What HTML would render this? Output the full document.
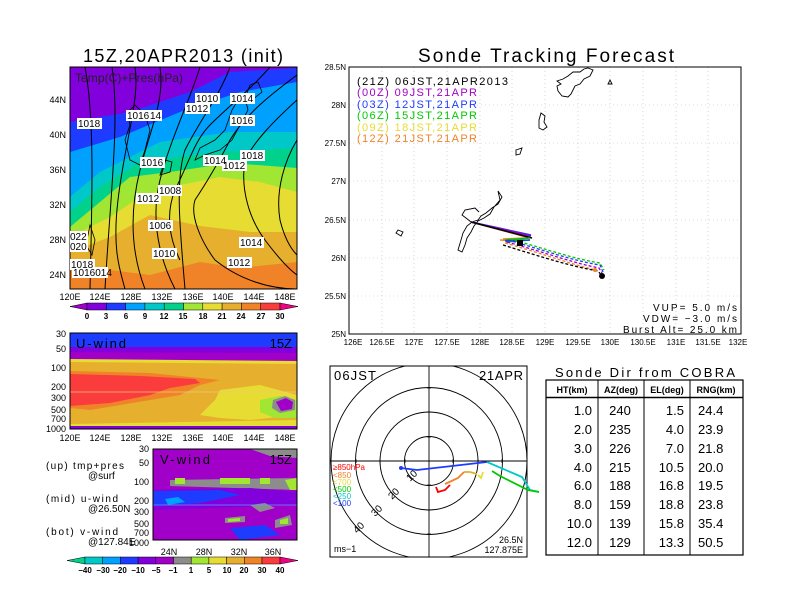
<!DOCTYPE html>
<html><head><meta charset="utf-8"><style>
html,body{margin:0;padding:0;background:#fff}
svg{display:block;font-family:"Liberation Sans",sans-serif}
</style></head><body>
<svg width="792" height="612" viewBox="0 0 792 612" xmlns="http://www.w3.org/2000/svg">
<rect width="792" height="612" fill="#fff"/>
<!-- ===== Top-left map ===== -->
<text x="183" y="62" font-size="18" text-anchor="middle" textLength="200">15Z,20APR2013 (init)</text>
<defs><clipPath id="cm"><rect x="70" y="67" width="227" height="222"/></clipPath>
<clipPath id="cu"><rect x="70" y="333" width="227" height="96"/></clipPath>
<clipPath id="cv"><rect x="153" y="449" width="144" height="91"/></clipPath>
<clipPath id="cp"><rect x="330" y="366" width="197" height="191"/></clipPath></defs>
<g clip-path="url(#cm)">
<rect x="70" y="67" width="227" height="222" fill="#f08228"/>
<path d="M70,67 L297,67 L297,262 L240,268 L200,262 L150,275 L70,265Z" fill="#e6af2d"/>
<path d="M70,67 L297,67 L297,232 L250,232 L200,226 L150,215 L110,237 L70,252Z" fill="#e6dc32"/>
<path d="M70,67 L297,67 L297,192 L260,182 L220,177 L170,187 L140,197 L110,217 L70,237Z" fill="#a0e632"/>
<path d="M70,67 L297,67 L297,168 L230,163 L170,172 L130,177 L100,202 L70,227Z" fill="#00d28c"/>
<path d="M70,67 L297,67 L297,148 L220,152 L140,162 L100,187 L70,212Z" fill="#00c8c8"/>
<path d="M70,67 L297,67 L297,132 L230,132 L160,142 L100,172 L70,197Z" fill="#00a0ff"/>
<path d="M70,67 L297,67 L297,82 L240,92 L180,112 L120,137 L70,152Z" fill="#1e3cff"/>
<path d="M70,67 L297,67 L297,68 L230,72 L190,92 L130,112 L70,122Z" fill="#8200dc"/>
<g fill="none" stroke="#000" stroke-width="1">
<path d="M85,67 C95,120 92,200 90,289"/>
<path d="M112,67 C120,120 110,200 105,289"/>
<path d="M135,67 C140,100 125,140 118,200 C112,250 120,270 125,289"/>
<path d="M160,67 C165,100 150,130 140,170 C130,210 130,250 145,289"/>
<path d="M200,67 C190,100 170,140 160,180 C150,220 160,260 175,289"/>
<path d="M230,67 C220,95 200,120 185,150 C175,180 180,230 185,289"/>
<path d="M270,67 C250,90 230,105 210,125 C195,140 190,160 175,190 C165,215 170,240 180,260"/>
<path d="M297,75 C270,95 245,115 230,140 C220,160 205,185 195,200 C190,215 200,240 215,260 C240,280 270,289 297,289"/>
<path d="M297,100 C275,120 255,140 245,160 C240,190 250,220 265,240 C280,260 290,270 297,275"/>
<path d="M297,140 C285,160 275,190 280,220 C285,240 292,250 297,255"/>
</g>
<g fill="none" stroke="#000" stroke-width="0.8">
<path d="M135,105 L145,115 L150,130 L145,150 L140,165 L130,160 L125,140 L130,125 L128,112Z"/>
<path d="M200,148 L215,140 L225,130 L232,110 L238,100 L245,98 L248,110 L240,125 L232,140 L220,150 L205,155 L195,160Z"/>
<path d="M245,98 L250,85 L258,82 L262,92 L252,100Z"/>
<path d="M165,160 L172,162 L170,172 L160,175Z"/>
<path d="M90,225 L95,240 L92,255 L86,245Z"/>
</g>
</g>
<rect x="70" y="67" width="227" height="222" fill="none" stroke="#000" stroke-width="1"/>
<text x="75" y="82" font-size="12" fill="#222" textLength="108">Temp(C)+Pres(hPa)</text>
<g font-size="10" fill="#000">
<g fill="#fff"><rect x="195" y="93" width="25" height="11"/><rect x="185" y="103" width="25" height="11"/><rect x="230" y="93" width="25" height="11"/><rect x="126" y="110" width="36" height="11"/><rect x="77" y="118" width="25" height="11"/><rect x="230" y="115" width="25" height="11"/><rect x="140" y="157" width="25" height="11"/><rect x="203" y="155" width="25" height="11"/><rect x="240" y="150" width="25" height="11"/><rect x="222" y="160" width="25" height="11"/><rect x="158" y="185" width="24" height="11"/><rect x="136" y="193" width="25" height="11"/><rect x="148" y="220" width="25" height="11"/><rect x="152" y="248" width="25" height="11"/><rect x="239" y="237" width="25" height="11"/><rect x="227" y="257" width="25" height="11"/><rect x="70" y="231" width="18" height="11"/><rect x="70" y="241" width="18" height="11"/><rect x="70" y="259" width="25" height="11"/><rect x="72" y="267" width="36" height="11"/></g>
<text x="196" y="102">1010</text><text x="186" y="112">1012</text><text x="231" y="102">1014</text><text x="127" y="119">1016</text><text x="150" y="119">14</text><text x="78" y="127">1018</text><text x="231" y="124">1016</text><text x="141" y="166">1016</text><text x="204" y="164">1014</text><text x="241" y="159">1018</text><text x="223" y="169">1012</text><text x="159" y="194">1008</text><text x="137" y="202">1012</text><text x="149" y="229">1006</text><text x="153" y="257">1010</text><text x="240" y="246">1014</text><text x="228" y="266">1012</text><text x="70" y="240">022</text><text x="70" y="250">020</text><text x="71" y="268">1018</text><text x="73" y="276">1016014</text>
</g>
<g font-size="9" text-anchor="end"><text x="66" y="103">44N</text><text x="66" y="138">40N</text><text x="66" y="173">36N</text><text x="66" y="208">32N</text><text x="66" y="243">28N</text><text x="66" y="278">24N</text></g>
<g font-size="9" text-anchor="middle"><text x="70" y="300">120E</text><text x="100" y="300">124E</text><text x="131" y="300">128E</text><text x="162" y="300">132E</text><text x="193" y="300">136E</text><text x="223" y="300">140E</text><text x="254" y="300">144E</text><text x="285" y="300">148E</text></g>
<!-- colorbar 1 -->
<g stroke="#000" stroke-width="0.5">
<path d="M70,306.5 L87,303 L87,310Z" fill="#a000c8"/>
<rect x="87" y="303" width="19.3" height="7" fill="#8200dc"/><rect x="106.3" y="303" width="19.3" height="7" fill="#1e3cff"/><rect x="125.6" y="303" width="19.3" height="7" fill="#00a0ff"/><rect x="144.9" y="303" width="19.3" height="7" fill="#00c8c8"/><rect x="164.2" y="303" width="19.3" height="7" fill="#00d28c"/><rect x="183.5" y="303" width="19.3" height="7" fill="#a0e632"/><rect x="202.8" y="303" width="19.3" height="7" fill="#e6dc32"/><rect x="222.1" y="303" width="19.3" height="7" fill="#e6af2d"/><rect x="241.4" y="303" width="19.3" height="7" fill="#f08228"/><rect x="260.7" y="303" width="19.3" height="7" fill="#fa3c3c"/>
<path d="M280,303 L298,306.5 L280,310Z" fill="#f00082"/></g>
<g font-size="8" font-weight="bold" text-anchor="middle"><text x="87" y="319">0</text><text x="106" y="319">3</text><text x="126" y="319">6</text><text x="145" y="319">9</text><text x="164" y="319">12</text><text x="183" y="319">15</text><text x="203" y="319">18</text><text x="222" y="319">21</text><text x="241" y="319">24</text><text x="261" y="319">27</text><text x="280" y="319">30</text></g>
<!-- ===== U-wind ===== -->
<g clip-path="url(#cu)">
<rect x="70" y="333" width="227" height="96" fill="#e6af2d"/>
<rect x="70" y="333" width="227" height="14" fill="#1e3cff"/>
<path d="M70,347 L297,347 L297,360 L70,358Z" fill="#8200dc"/>
<path d="M70,352 L297,353 L297,362 L70,360Z" fill="#a000c8"/>
<path d="M70,359 L297,361 L297,364 L70,362Z" fill="#e6dc32"/>
<path d="M70,371 L150,373 L200,378 L220,380 L200,385 L180,395 L150,400 L120,405 L90,410 L70,408Z" fill="#f08228"/>
<path d="M70,374 L140,376 L195,379 L200,383 L170,388 L150,395 L110,403 L70,406Z" fill="#fa3c3c"/>
<path d="M220,390 L260,385 L297,395 L297,415 L250,420 L220,418 L200,415 L215,400Z" fill="#e6dc32"/>
<path d="M260,400 L280,396 L297,400 L297,418 L275,418 L260,412Z" fill="#a0e632"/>
<path d="M273,400 L285,396 L295,400 L295,410 L280,413 L272,408Z" fill="#8c8c8c"/>
<path d="M276,402 L286,398 L293,402 L292,409 L281,411Z" fill="#a000c8"/>
<path d="M70,424 L297,420 L297,429 L70,429Z" fill="#e6dc32"/>
<rect x="70" y="426" width="227" height="3" fill="#8200dc"/>
<line x1="70" y1="392" x2="297" y2="392" stroke="#f0c880" stroke-width="0.8"/>
</g>
<rect x="70" y="333" width="227" height="96" fill="none" stroke="#000"/>
<text x="76" y="348" font-size="13" textLength="50">U-wind</text><text x="292" y="348" font-size="13" text-anchor="end">15Z</text>
<g font-size="9" text-anchor="end"><text x="66" y="337">30</text><text x="66" y="352">50</text><text x="66" y="371">100</text><text x="66" y="390">200</text><text x="66" y="401">300</text><text x="66" y="413">500</text><text x="66" y="422">700</text><text x="66" y="432">1000</text></g>
<g font-size="9" text-anchor="middle"><text x="70" y="441">120E</text><text x="100" y="441">124E</text><text x="131" y="441">128E</text><text x="162" y="441">132E</text><text x="193" y="441">136E</text><text x="223" y="441">140E</text><text x="254" y="441">144E</text><text x="285" y="441">148E</text></g>
<!-- ===== V-wind ===== -->
<g clip-path="url(#cv)">
<rect x="153" y="449" width="144" height="91" fill="#a000c8"/>
<path d="M250,449 L297,449 L297,458 L270,456Z" fill="#8c8c8c"/>
<path d="M170,480 L297,478 L297,490 L170,486Z" fill="#8c8c8c"/>
<path d="M175,478 L185,478 L185,484 L175,484Z M220,478 L250,478 L250,484 L220,484Z M260,478 L270,478 L270,484 L260,484Z M285,480 L297,478 L297,490 L290,490Z" fill="#a0e632"/>
<path d="M153,490 L250,488 L297,492 L297,505 L153,510Z" fill="#8200dc"/>
<path d="M153,491 L220,490 L240,495 L200,503 L153,506Z" fill="#1e3cff"/>
<path d="M165,499 L178,497 L185,502 L168,505Z" fill="#00a0ff"/>
<path d="M250,505 L265,503 L275,508 L260,512Z M275,520 L290,515 L292,525 L275,528Z M225,518 L245,516 L245,522 L225,523Z" fill="#8c8c8c"/>
<path d="M228,519 L240,518 L240,521 L228,522Z M280,520 L288,518 L288,524 L280,524Z" fill="#a0e632"/>
<path d="M230,528 L265,525 L280,535 L240,540Z" fill="#1e3cff"/>
<line x1="153" y1="505" x2="297" y2="505" stroke="#6496ff" stroke-width="0.7"/>
</g>
<rect x="153" y="449" width="144" height="91" fill="none" stroke="#000"/>
<text x="160" y="464" font-size="13" textLength="50">V-wind</text><text x="292" y="464" font-size="13" text-anchor="end">15Z</text>
<g font-size="9" text-anchor="end"><text x="149" y="452">30</text><text x="149" y="466">50</text><text x="149" y="485">100</text><text x="149" y="504">200</text><text x="149" y="515">300</text><text x="149" y="527">500</text><text x="149" y="536">700</text><text x="149" y="546">1000</text></g>
<g font-size="9" text-anchor="middle"><text x="169" y="555">24N</text><text x="204" y="555">28N</text><text x="239" y="555">32N</text><text x="273" y="555">36N</text></g>
<g font-size="10"><text x="46" y="469" textLength="78">(up) tmp+pres</text><text x="88" y="479">@surf</text><text x="46" y="502" textLength="72">(mid) u-wind</text><text x="88" y="512">@26.50N</text><text x="46" y="535" textLength="72">(bot) v-wind</text><text x="88" y="545">@127.84E</text></g>
<!-- colorbar 2 -->
<g stroke="#000" stroke-width="0.5">
<path d="M67,560.5 L85,557 L85,564Z" fill="#00d28c"/>
<rect x="85" y="557" width="17.7" height="7" fill="#00c8c8"/><rect x="102.7" y="557" width="17.7" height="7" fill="#00a0ff"/><rect x="120.4" y="557" width="17.7" height="7" fill="#1e3cff"/><rect x="138.1" y="557" width="17.7" height="7" fill="#8200dc"/><rect x="155.8" y="557" width="17.7" height="7" fill="#a000c8"/><rect x="173.5" y="557" width="17.7" height="7" fill="#8c8c8c"/><rect x="191.2" y="557" width="17.7" height="7" fill="#a0e632"/><rect x="208.9" y="557" width="17.7" height="7" fill="#e6dc32"/><rect x="226.6" y="557" width="17.7" height="7" fill="#e6af2d"/><rect x="244.3" y="557" width="17.7" height="7" fill="#f08228"/><rect x="262" y="557" width="18" height="7" fill="#fa3c3c"/>
<path d="M280,557 L298,560.5 L280,564Z" fill="#f00082"/></g>
<g font-size="8" font-weight="bold" text-anchor="middle"><text x="85" y="573">−40</text><text x="103" y="573">−30</text><text x="120" y="573">−20</text><text x="138" y="573">−10</text><text x="156" y="573">−5</text><text x="173" y="573">−1</text><text x="191" y="573">1</text><text x="209" y="573">5</text><text x="227" y="573">10</text><text x="244" y="573">20</text><text x="262" y="573">30</text><text x="280" y="573">40</text></g>
<!-- ===== Sonde tracking ===== -->
<text x="546" y="62" font-size="19" text-anchor="middle" textLength="256">Sonde Tracking Forecast</text>
<g stroke="#bbb" stroke-width="0.6" stroke-dasharray="1,3">
<line x1="382" y1="67" x2="382" y2="334"/><line x1="414" y1="67" x2="414" y2="334"/><line x1="447" y1="67" x2="447" y2="334"/><line x1="480" y1="67" x2="480" y2="334"/><line x1="512" y1="67" x2="512" y2="334"/><line x1="545" y1="67" x2="545" y2="334"/><line x1="578" y1="67" x2="578" y2="334"/><line x1="610" y1="67" x2="610" y2="334"/><line x1="643" y1="67" x2="643" y2="334"/><line x1="676" y1="67" x2="676" y2="334"/><line x1="708" y1="67" x2="708" y2="334"/>
<line x1="349" y1="105" x2="741" y2="105"/><line x1="349" y1="143" x2="741" y2="143"/><line x1="349" y1="181" x2="741" y2="181"/><line x1="349" y1="220" x2="741" y2="220"/><line x1="349" y1="258" x2="741" y2="258"/><line x1="349" y1="296" x2="741" y2="296"/>
</g>
<rect x="349" y="67" width="392" height="267" fill="none" stroke="#000"/>
<g fill="none" stroke="#000" stroke-width="0.9">
<path d="M588,68 L593,70 L590,76 L584,79 L580,84 L575,86 L571,94 L568,97 L562,96 L558,91 L557,86 L561,84 L557,81 L563,79 L568,76 L573,72 L580,72 L584,69Z"/>
<path d="M610,80 L612,84 L608,84Z"/>
<path d="M541,113 L545,116 L544,122 L547,127 L543,130 L539,128 L539,120Z"/>
<path d="M516,150 L522,148 L520,154 L516,155Z"/>
<path d="M498,191 L502,197 L498,204 L492,208 L486,213 L481,216 L478,220 L472,222 L467,226 L463,233 L461,240 L458,250 L462,252 L465,245 L467,238 L471,232 L474,226 L478,221 L484,218 L490,214 L494,207 L500,200Z"/>
<path d="M471,222 L466,218 L462,215 L465,210 L475,208 L479,212"/>
<path d="M398,230 L403,232 L401,236 L396,233Z"/>
</g>
<g fill="none" stroke-width="1.6">
<path d="M471,222 L530,236" stroke="#e6dc32"/>
<path d="M471,222 L530,238" stroke="#f08228"/>
<path d="M471,222 L531,235" stroke="#1e3cff"/>
<path d="M471,222 L531,236" stroke="#a000c8"/>
<path d="M471,222 L532,238" stroke="#000"/>
<path d="M503,239 L525,238 M500,240 L520,241" stroke="#f08228"/>
<path d="M505,240 L530,238 M506,242 L530,240" stroke="#00c800"/>
<path d="M505,241 L530,240" stroke="#1e3cff"/>
</g>
<g fill="none" stroke-width="1.3" stroke-dasharray="3,2">
<path d="M510,239 C550,250 570,258 600,263 L604,270" stroke="#00c800"/>
<path d="M508,240 C550,252 570,260 600,265 L603,272" stroke="#1e3cff"/>
<path d="M507,242 C550,254 570,262 599,268 L602,273" stroke="#a000c8"/>
<path d="M505,243 C550,256 570,264 596,270" stroke="#f08228"/>
<path d="M503,245 C545,258 570,266 598,271 L602,276" stroke="#000"/>
</g>
<rect x="517" y="240" width="6" height="6" fill="#000"/>
<circle cx="602" cy="276" r="3" fill="#000"/>
<circle cx="595" cy="270" r="2" fill="#f08228"/>
<g font-size="8" text-anchor="end"><text x="346" y="70">28.5N</text><text x="346" y="108">28N</text><text x="346" y="146">27.5N</text><text x="346" y="184">27N</text><text x="346" y="223">26.5N</text><text x="346" y="261">26N</text><text x="346" y="299">25.5N</text><text x="346" y="337">25N</text></g>
<g font-size="8" text-anchor="middle"><text x="353" y="345">126E</text><text x="382" y="345">126.5E</text><text x="414" y="345">127E</text><text x="447" y="345">127.5E</text><text x="480" y="345">128E</text><text x="512" y="345">128.5E</text><text x="545" y="345">129E</text><text x="578" y="345">129.5E</text><text x="610" y="345">130E</text><text x="643" y="345">130.5E</text><text x="676" y="345">131E</text><text x="708" y="345">131.5E</text><text x="738" y="345">132E</text></g>
<g font-size="11"><text x="357" y="85" fill="#000" textLength="151">(21Z)  06JST,21APR2013</text><text x="357" y="96" fill="#a000c8" textLength="120">(00Z)  09JST,21APR</text><text x="357" y="108" fill="#1e3cff" textLength="120">(03Z)  12JST,21APR</text><text x="357" y="119" fill="#00c800" textLength="120">(06Z)  15JST,21APR</text><text x="357" y="131" fill="#e6dc32" textLength="120">(09Z)  18JST,21APR</text><text x="357" y="142" fill="#f08228" textLength="120">(12Z)  21JST,21APR</text></g>
<g font-size="10" text-anchor="end"><text x="737" y="311" textLength="84">VUP=  5.0  m/s</text><text x="737" y="322" textLength="94">VDW=  −3.0  m/s</text><text x="737" y="333" textLength="114">Burst Alt=  25.0  km</text></g>
<!-- ===== Polar ===== -->
<rect x="330" y="366" width="197" height="191" fill="none" stroke="#000"/>
<g fill="none" stroke="#000" stroke-width="0.9" clip-path="url(#cp)">
<circle cx="429" cy="461" r="24.5"/><circle cx="429" cy="461" r="49"/><circle cx="429" cy="461" r="73.5"/><circle cx="429" cy="461" r="98"/>
<line x1="429" y1="366" x2="429" y2="557"/><line x1="330" y1="461" x2="527" y2="461"/>
</g>
<g stroke="#000" stroke-width="0.8">
<path d="M405,459v4M380,459v4M356,459v4M453,459v4M478,459v4M502,459v4M427,437h4M427,412h4M427,388h4M427,485h4M427,510h4M427,534h4"/>
</g>
<g fill="none" stroke-width="1.8">
<path d="M401,468 L417,470 L487,462" stroke="#1e3cff"/>
<path d="M487,462 L522,477 L530,490 L539,492" stroke="#00c8c8"/>
<path d="M492,471 L500,476 L528,490 L539,492" stroke="#00c800"/>
<path d="M478,475 L481,478 L483,472" stroke="#e6dc32"/>
<path d="M464,472 L470,472 L477,474" stroke="#e6af2d"/>
<path d="M445,484 L458,478 L464,472" stroke="#f08228"/>
<path d="M436,487 L438,492 L445,490 L450,485" stroke="#fa0000"/>
</g>
<circle cx="401" cy="468" r="2" fill="#1e3cff"/>
<g font-size="10" text-anchor="middle"><text transform="translate(414,478) rotate(-45)">10</text><text transform="translate(396,496) rotate(-45)">20</text><text transform="translate(379,513) rotate(-45)">30</text><text transform="translate(361,530) rotate(-45)">40</text></g>
<g font-size="8"><text x="333" y="470" fill="#fa0000">≥850hPa</text><text x="333" y="478" fill="#f08228">&lt;850</text><text x="333" y="485" fill="#e6dc32">&lt;700</text><text x="333" y="492" fill="#00c800">&lt;500</text><text x="333" y="499" fill="#00c8c8">&lt;250</text><text x="333" y="506" fill="#1e3cff">&lt;100</text></g>
<text x="334" y="380" font-size="13" textLength="42">06JST</text><text x="523" y="380" font-size="13" text-anchor="end" textLength="44">21APR</text>
<text x="334" y="552" font-size="9">ms−1</text>
<text x="523" y="543" font-size="9" text-anchor="end">26.5N</text><text x="523" y="553" font-size="9" text-anchor="end">127.875E</text>
<!-- ===== Table ===== -->
<text x="645" y="377" font-size="13" text-anchor="middle" textLength="180">Sonde Dir from COBRA</text>
<rect x="546" y="380" width="197" height="175" fill="none" stroke="#000" stroke-width="1.2"/>
<line x1="546" y1="397.5" x2="743" y2="397.5" stroke="#000" stroke-width="1.5"/>
<g stroke="#000" stroke-width="1"><line x1="598" y1="380" x2="598" y2="555"/><line x1="644" y1="380" x2="644" y2="555"/><line x1="690" y1="380" x2="690" y2="555"/></g>
<g font-size="9" font-weight="bold" text-anchor="middle"><text x="572" y="393">HT(km)</text><text x="621" y="393">AZ(deg)</text><text x="667" y="393">EL(deg)</text><text x="716" y="393">RNG(km)</text></g>
<g font-size="13">
<g text-anchor="end"><text x="592" y="415">1.0</text><text x="592" y="434">2.0</text><text x="592" y="453">3.0</text><text x="592" y="472">4.0</text><text x="592" y="490">6.0</text><text x="592" y="509">8.0</text><text x="592" y="528">10.0</text><text x="592" y="547">12.0</text></g>
<g text-anchor="middle"><text x="620" y="415">240</text><text x="620" y="434">235</text><text x="620" y="453">226</text><text x="620" y="472">215</text><text x="620" y="490">188</text><text x="620" y="509">159</text><text x="620" y="528">139</text><text x="620" y="547">129</text></g>
<g text-anchor="end"><text x="684" y="415">1.5</text><text x="684" y="434">4.0</text><text x="684" y="453">7.0</text><text x="684" y="472">10.5</text><text x="684" y="490">16.8</text><text x="684" y="509">18.8</text><text x="684" y="528">15.8</text><text x="684" y="547">13.3</text></g>
<g><text x="698" y="415">24.4</text><text x="698" y="434">23.9</text><text x="698" y="453">21.8</text><text x="698" y="472">20.0</text><text x="698" y="490">19.5</text><text x="698" y="509">23.8</text><text x="698" y="528">35.4</text><text x="698" y="547">50.5</text></g>
</g>
</svg>
</body></html>
